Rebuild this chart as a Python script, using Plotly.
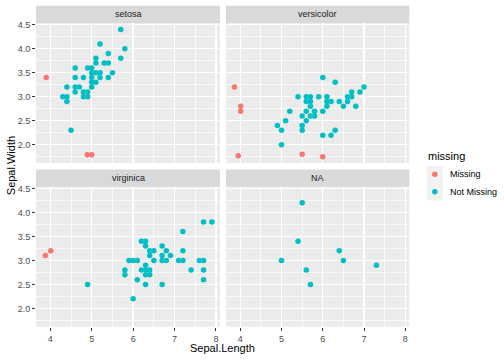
import plotly.graph_objects as go

# ---------------- data (Sepal.Length, Sepal.Width) ----------------
panels = ["setosa", "versicolor", "virginica", "NA"]

setosa_miss_len = [3.90, 4.89, 5.00]
setosa_miss_wid = [3.40, 1.79, 1.79]
setosa_len = [5.7, 5.2, 5.8, 5.4, 5.1, 5.7, 5.1, 5.3, 5.4, 4.6, 4.9, 5.0, 5.1, 5.0, 5.2, 5.5,
              4.6, 4.8, 5.0, 5.2, 5.4, 5.0, 5.1, 4.4, 4.6, 4.7, 5.0, 4.6, 4.8, 4.9, 4.3, 4.4,
              4.8, 4.9, 4.4, 4.5]
setosa_wid = [4.4, 4.1, 4.0, 3.9, 3.8, 3.8, 3.7, 3.7, 3.7, 3.6, 3.6, 3.6, 3.5, 3.5, 3.5, 3.5,
              3.4, 3.4, 3.4, 3.4, 3.4, 3.3, 3.3, 3.2, 3.2, 3.2, 3.2, 3.1, 3.1, 3.1, 3.0, 3.0,
              3.0, 3.0, 2.9, 2.3]

versicolor_miss_len = [3.86, 4.01, 4.01, 3.95, 5.50, 6.00]
versicolor_miss_wid = [3.20, 2.80, 2.70, 1.77, 1.80, 1.75]
versicolor_len = [6.0, 6.3, 7.0, 6.7, 6.9, 5.4, 5.6, 5.7, 5.9, 6.1, 6.6, 6.7, 5.6, 5.7, 6.1, 6.2,
                  6.4, 6.6, 5.7, 6.1, 6.5, 6.8, 5.2, 5.6, 5.8, 6.0, 5.5, 5.7, 5.8, 5.6, 5.1, 4.9,
                  5.5, 5.0, 5.5, 6.3, 6.0, 6.2, 5.0]
versicolor_wid = [3.4, 3.3, 3.2, 3.1, 3.1, 3.0, 3.0, 3.0, 3.0, 3.0, 3.0, 3.0, 2.9, 2.9, 2.9, 2.9,
                  2.9, 2.9, 2.8, 2.8, 2.8, 2.8, 2.7, 2.7, 2.7, 2.7, 2.6, 2.6, 2.6, 2.5, 2.5, 2.4,
                  2.4, 2.3, 2.3, 2.3, 2.2, 2.2, 2.0]

virginica_miss_len = [3.88, 4.01]
virginica_miss_wid = [3.10, 3.20]
virginica_len = [7.7, 7.9, 7.2, 6.2, 6.3, 6.3, 6.7, 6.4, 6.5, 6.8, 7.2, 6.4, 6.7, 6.9, 5.9, 6.0,
                 6.1, 6.5, 6.7, 6.8, 7.1, 7.2, 7.6, 7.7, 6.3, 5.8, 6.2, 6.3, 6.4, 7.4, 7.7, 5.8,
                 6.3, 6.4, 6.1, 7.7, 4.9, 6.3, 6.7, 6.0]
virginica_wid = [3.8, 3.8, 3.6, 3.4, 3.4, 3.3, 3.3, 3.2, 3.2, 3.2, 3.2, 3.1, 3.1, 3.1, 3.0, 3.0,
                 3.0, 3.0, 3.0, 3.0, 3.0, 3.0, 3.0, 3.0, 2.9, 2.8, 2.8, 2.8, 2.8, 2.8, 2.8, 2.7,
                 2.7, 2.7, 2.6, 2.6, 2.5, 2.5, 2.5, 2.2]

na_miss_len = []
na_miss_wid = []
na_len = [5.5, 5.4, 6.4, 5.0, 6.5, 7.3, 5.6, 5.7]
na_wid = [4.2, 3.4, 3.2, 3.0, 3.0, 2.9, 2.8, 2.5]

legend_title = "missing"
legend_labels = ["Missing", "Not Missing"]

x_ticks = [4, 5, 6, 7, 8]
x_tick_labels = ["4", "5", "6", "7", "8"]
y_ticks = [2.0, 2.5, 3.0, 3.5, 4.0, 4.5]
y_tick_labels = ["2.0", "2.5", "3.0", "3.5", "4.0", "4.5"]

panel_data = [
    (setosa_miss_len, setosa_miss_wid, setosa_len, setosa_wid),
    (versicolor_miss_len, versicolor_miss_wid, versicolor_len, versicolor_wid),
    (virginica_miss_len, virginica_miss_wid, virginica_len, virginica_wid),
    (na_miss_len, na_miss_wid, na_len, na_wid),
]

# ---------------- layout helpers ----------------
W, H = 504, 360
def px(x):
    return x / W
def py(y):
    return 1 - y / H

RED = "#F8766D"
CYAN = "#00BFC4"
COLORS = [RED, CYAN]
FONT = "Liberation Sans, Arial, sans-serif"
MSIZE = 5.5

col_x = [(36, 220), (226, 409.3)]
row_y = [(23, 163), (186.7, 326.7)]   # plot area (top, bottom) in px
strip_h = 17.3

fig = go.Figure()

for i, (ml, mw, nl, nw) in enumerate(panel_data):
    suffix = "" if i == 0 else str(i + 1)
    fig.add_trace(go.Scatter(
        x=ml, y=mw, mode="markers", name=legend_labels[0], showlegend=False,
        marker=dict(color=RED, size=MSIZE, line=dict(width=0)),
        xaxis="x" + suffix, yaxis="y" + suffix, hoverinfo="x+y"))
    fig.add_trace(go.Scatter(
        x=nl, y=nw, mode="markers", name=legend_labels[1], showlegend=False,
        marker=dict(color=CYAN, size=MSIZE, line=dict(width=0)),
        xaxis="x" + suffix, yaxis="y" + suffix, hoverinfo="x+y"))

X_RANGE = [3.654, 8.097]
Y_RANGE = [1.62, 4.535]

shapes = []
annotations = []
layout_axes = {}
for i, name in enumerate(panels):
    r, c = divmod(i, 2)
    suffix = "" if i == 0 else str(i + 1)
    x0, x1 = col_x[c]
    ytop, ybot = row_y[r]
    show_x = (r == 1)
    show_y = (c == 0)
    layout_axes["xaxis" + suffix] = dict(
        domain=[px(x0), px(x1)], anchor="y" + suffix, range=X_RANGE,
        tickvals=x_ticks, ticktext=x_tick_labels, showticklabels=show_x,
        ticks="outside" if show_x else "", ticklen=3, tickwidth=1, tickcolor="#333333",
        tickfont=dict(family=FONT, size=9, color="#4D4D4D"),
        showgrid=True, gridcolor="white", gridwidth=1.4, zeroline=False, showline=False,
        minor=dict(dtick=0.5, tick0=0, showgrid=True, gridcolor="white", gridwidth=0.7, ticks=""),
        fixedrange=True, automargin=False,
    )
    layout_axes["yaxis" + suffix] = dict(
        domain=[py(ybot), py(ytop)], anchor="x" + suffix, range=Y_RANGE,
        tickvals=y_ticks, ticktext=y_tick_labels, showticklabels=show_y,
        ticks="outside" if show_y else "", ticklen=3, tickwidth=1, tickcolor="#333333",
        tickfont=dict(family=FONT, size=9, color="#4D4D4D"),
        showgrid=True, gridcolor="white", gridwidth=1.4, zeroline=False, showline=False,
        minor=dict(dtick=0.25, tick0=0, showgrid=True, gridcolor="white", gridwidth=0.7, ticks=""),
        fixedrange=True, automargin=False,
    )
    # panel background
    shapes.append(dict(type="rect", xref="paper", yref="paper", layer="below",
                       x0=px(x0), x1=px(x1), y0=py(ybot), y1=py(ytop),
                       fillcolor="#EBEBEB", line=dict(width=0)))
    # strip
    shapes.append(dict(type="rect", xref="paper", yref="paper", layer="below",
                       x0=px(x0), x1=px(x1), y0=py(ytop), y1=py(ytop - strip_h),
                       fillcolor="#D9D9D9", line=dict(width=0)))
    annotations.append(dict(text=name, xref="paper", yref="paper",
                            x=px((x0 + x1) / 2), y=py(ytop - strip_h / 2),
                            xanchor="center", yanchor="middle", showarrow=False,
                            font=dict(family=FONT, size=9, color="#1A1A1A")))

# axis titles
annotations.append(dict(text="Sepal.Length", xref="paper", yref="paper",
                        x=px((36 + 409.3) / 2), y=py(348), xanchor="center", yanchor="middle",
                        showarrow=False, font=dict(family=FONT, size=11, color="black")))
annotations.append(dict(text="Sepal.Width", xref="paper", yref="paper",
                        x=px(11), y=py((5.7 + 326.7) / 2), xanchor="center", yanchor="middle",
                        textangle=-90, showarrow=False,
                        font=dict(family=FONT, size=11, color="black")))

# manual legend (ggplot style)
annotations.append(dict(text=legend_title, xref="paper", yref="paper",
                        x=px(426), y=py(156), xanchor="left", yanchor="middle",
                        showarrow=False, font=dict(family=FONT, size=11, color="black")))
shapes.append(dict(type="rect", xref="paper", yref="paper", layer="below",
                   x0=px(426.5), x1=px(443), y0=py(200.5), y1=py(166),
                   fillcolor="#F2F2F2", line=dict(width=0)))
for k, (lab, col) in enumerate(zip(legend_labels, COLORS)):
    cy = 174.3 + k * 17.4
    shapes.append(dict(type="circle", xref="paper", yref="paper",
                       x0=px(434.8 - MSIZE / 2), x1=px(434.8 + MSIZE / 2),
                       y0=py(cy + MSIZE / 2), y1=py(cy - MSIZE / 2),
                       fillcolor=col, line=dict(width=0)))
    annotations.append(dict(text=lab, xref="paper", yref="paper",
                            x=px(448), y=py(cy), xanchor="left", yanchor="middle",
                            showarrow=False, font=dict(family=FONT, size=9, color="black")))

fig.update_layout(
    width=W, height=H,
    margin=dict(l=0, r=0, t=0, b=0, autoexpand=False),
    paper_bgcolor="white", plot_bgcolor="rgba(0,0,0,0)",
    showlegend=False,
    shapes=shapes, annotations=annotations,
    **layout_axes,
)

fig.write_html("out.html",
               config={"displayModeBar": False, "staticPlot": True},
               post_script="document.body.style.margin='0px';document.body.style.padding='0px';")
